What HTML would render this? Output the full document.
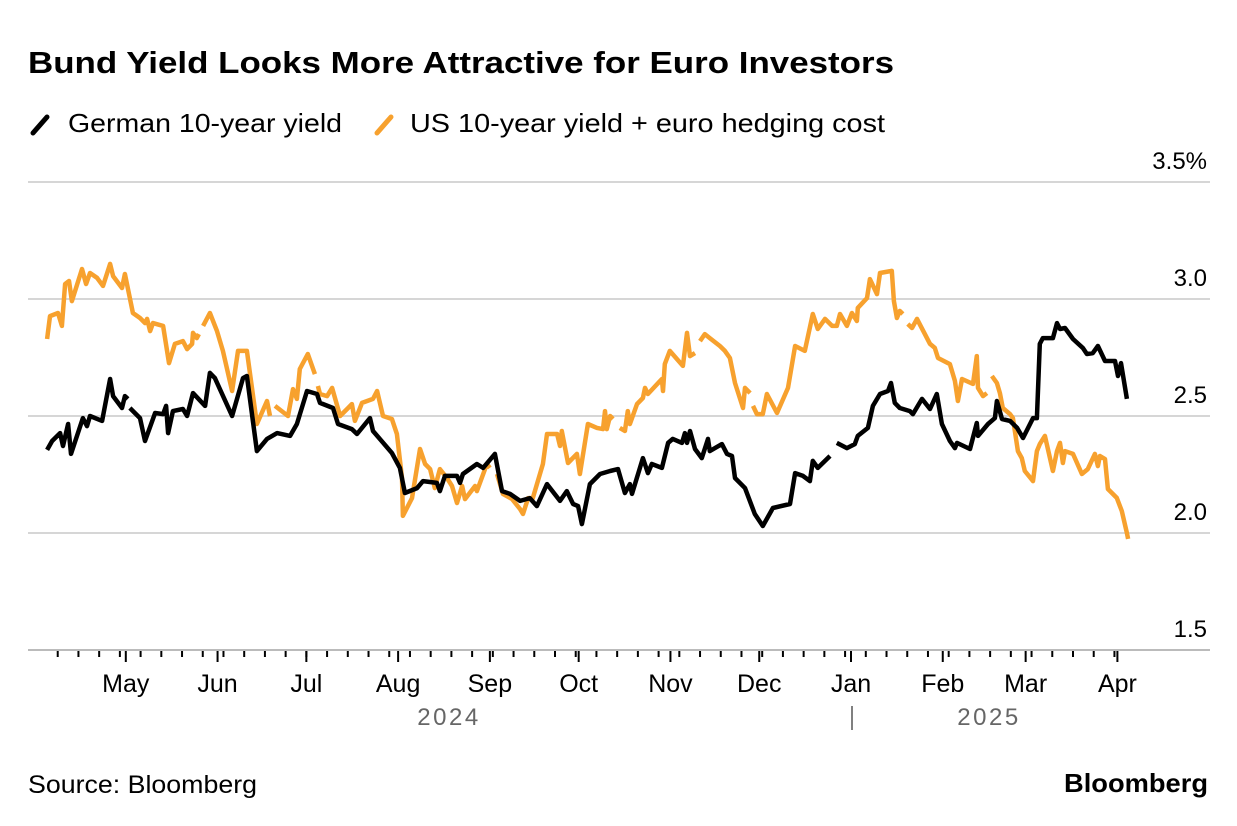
<!DOCTYPE html>
<html><head><meta charset="utf-8">
<style>
body{margin:0;background:#fff;width:1237px;height:826px;overflow:hidden;font-family:"Liberation Sans",sans-serif;}
svg{position:absolute;left:0;top:0}
</style></head><body>
<svg width="1237" height="826">
<text x="28" y="73" font-size="31" font-weight="bold" fill="#000" textLength="866" lengthAdjust="spacingAndGlyphs">Bund Yield Looks More Attractive for Euro Investors</text>
<g>
<line x1="33" y1="133" x2="47" y2="117" stroke="#000" stroke-width="5" stroke-linecap="round"/>
<text x="68" y="132" font-size="26" fill="#000" textLength="274" lengthAdjust="spacingAndGlyphs">German 10-year yield</text>
<line x1="377" y1="133" x2="391" y2="117" stroke="#f7a12e" stroke-width="5" stroke-linecap="round"/>
<text x="410" y="132" font-size="26" fill="#000" textLength="475" lengthAdjust="spacingAndGlyphs">US 10-year yield + euro hedging cost</text>
</g>
<g id="grid"></g><g id="xaxis"></g><g id="series"></g>
<text x="28" y="793" font-size="25" fill="#000" textLength="229" lengthAdjust="spacingAndGlyphs">Source: Bloomberg</text>
<text x="1208" y="792" font-size="26" font-weight="bold" fill="#000" text-anchor="end" textLength="144" lengthAdjust="spacingAndGlyphs">Bloomberg</text>
</svg>
<script>
const yTicks=[1.5,2.0,2.5,3.0,3.5];
const yTickLabels=["1.5","2.0","2.5","3.0","3.5%"];
const monthDays=[30,61,91,122,153,183,214,244,275,306,334,365];
const monthLabels=["May","Jun","Jul","Aug","Sep","Oct","Nov","Dec","Jan","Feb","Mar","Apr"];
const germanDays=[3.4,5.1,7.8,8.8,10.5,11.5,15.5,16.9,17.9,22.0,24.7,25.7,28.7,29.7,30.7,null,31.4,34.8,36.5,39.9,42.6,43.6,44.3,45.9,49.3,50.7,52.7,56.8,58.4,60.1,65.9,69.6,70.9,74.3,77.7,81.1,85.5,87.8,91.2,94.6,95.6,100.0,101.7,106.4,108.1,112.5,113.5,119.9,122.6,124.3,128.4,130.4,135.1,136.1,137.8,141.9,142.9,143.9,148.6,150.7,154.7,157.1,159.8,163.2,166.5,168.9,172.3,176.7,179.0,181.1,182.8,184.1,186.8,190.2,193.6,196.3,198.6,200.3,201.0,204.7,206.4,207.7,211.1,213.2,214.8,217.9,218.9,219.6,220.6,222.3,224.6,226.7,227.3,231.4,233.1,234.8,235.8,239.2,242.5,245.2,248.6,254.4,256.1,258.8,261.1,262.1,263.8,267.9,null,270.2,273.6,276.3,277.3,280.7,282.4,284.8,287.5,288.5,289.8,291.5,294.9,295.9,299.0,301.7,304.0,305.7,308.4,310.1,310.8,315.2,317.5,317.9,321.3,323.6,324.3,326.0,328.7,331.1,333.1,336.5,337.8,338.8,339.8,343.2,344.6,345.6,347.3,350.0,353.3,354.7,356.7,358.4,360.8,364.2,365.2,366.2,368.2];
const germanValues=[2.355,2.393,2.427,2.372,2.466,2.338,2.491,2.457,2.500,2.479,2.658,2.585,2.534,2.585,2.573,null,2.534,2.491,2.393,2.513,2.508,2.543,2.427,2.521,2.530,2.500,2.598,2.543,2.684,2.662,2.500,2.662,2.671,2.350,2.402,2.427,2.415,2.466,2.607,2.594,2.556,2.534,2.466,2.444,2.423,2.491,2.436,2.342,2.278,2.171,2.192,2.222,2.214,2.179,2.244,2.244,2.214,2.252,2.295,2.278,2.338,2.179,2.167,2.137,2.149,2.115,2.209,2.137,2.179,2.124,2.115,2.038,2.209,2.252,2.265,2.273,2.171,2.209,2.167,2.320,2.256,2.295,2.278,2.385,2.402,2.385,2.427,2.385,2.436,2.359,2.320,2.402,2.350,2.380,2.338,2.329,2.235,2.192,2.081,2.030,2.107,2.124,2.256,2.244,2.222,2.308,2.278,2.329,null,2.385,2.363,2.380,2.415,2.449,2.543,2.594,2.607,2.641,2.556,2.534,2.521,2.508,2.573,2.530,2.594,2.466,2.393,2.363,2.385,2.359,2.470,2.415,2.466,2.491,2.564,2.487,2.479,2.449,2.406,2.491,2.491,2.808,2.833,2.833,2.897,2.872,2.876,2.829,2.791,2.765,2.769,2.799,2.735,2.735,2.671,2.726,2.573];
const usDays=[3.4,4.4,7.1,8.4,9.5,10.8,11.8,15.2,16.6,17.9,20.3,22.3,24.7,25.7,28.7,29.7,32.4,34.8,36.5,37.2,38.2,39.2,42.6,44.6,46.6,49.3,50.7,52.4,52.7,54.0,54.7,null,56.1,58.4,60.8,62.8,65.9,67.9,70.9,74.3,77.7,78.7,null,80.4,84.8,86.5,87.8,88.8,91.5,93.9,null,94.9,95.6,98.0,99.7,102.4,105.1,106.4,107.4,109.8,113.5,114.9,116.9,119.9,121.6,123.3,123.6,126.7,129.4,131.1,132.8,134.4,136.1,138.5,140.2,141.9,143.6,144.6,148.0,148.6,152.0,153.0,null,155.4,157.4,160.5,163.2,164.2,165.9,167.5,170.9,172.3,175.7,176.7,177.3,179.4,182.4,183.4,186.1,189.2,191.2,191.9,192.5,193.6,194.6,null,196.9,198.6,199.6,200.3,202.7,204.7,205.4,206.4,211.1,211.5,212.1,213.8,218.2,219.6,220.6,222.3,null,224.0,225.6,227.3,230.7,232.4,234.1,235.8,238.5,239.2,240.9,null,241.9,243.2,245.2,246.6,250.0,253.7,256.1,259.4,262.1,263.8,266.2,268.6,270.2,271.3,273.6,275.3,277.0,277.3,280.4,281.4,283.8,284.8,288.8,289.5,290.5,291.5,292.5,null,294.2,295.6,297.3,301.7,303.3,304.4,308.4,310.1,311.1,312.5,316.2,317.5,317.9,319.6,320.9,null,322.6,324.3,325.3,326.3,328.7,329.7,331.4,332.7,333.7,336.5,337.8,338.8,340.5,343.2,344.6,345.6,346.6,347.3,350.0,353.0,355.0,357.4,358.4,359.1,360.8,361.8,364.8,366.5,368.2,368.6];
const usValues=[2.829,2.927,2.940,2.885,3.064,3.077,2.991,3.128,3.064,3.111,3.090,3.056,3.150,3.098,3.047,3.107,2.940,2.919,2.897,2.915,2.863,2.897,2.885,2.726,2.808,2.820,2.786,2.808,2.855,2.833,2.850,null,2.885,2.940,2.863,2.778,2.607,2.778,2.778,2.466,2.564,2.500,null,2.543,2.500,2.615,2.573,2.701,2.765,2.679,null,2.628,2.594,2.585,2.620,2.500,2.534,2.551,2.479,2.556,2.573,2.607,2.500,2.487,2.423,2.235,2.073,2.149,2.359,2.295,2.273,2.192,2.273,2.235,2.201,2.128,2.201,2.145,2.201,2.179,2.295,2.278,null,2.252,2.167,2.145,2.102,2.081,2.149,2.149,2.295,2.423,2.423,2.372,2.436,2.299,2.338,2.252,2.466,2.449,2.444,2.521,2.444,2.500,2.487,null,2.449,2.436,2.521,2.466,2.551,2.577,2.620,2.594,2.658,2.607,2.722,2.778,2.714,2.855,2.756,2.769,null,2.820,2.850,2.833,2.799,2.778,2.748,2.641,2.534,2.620,2.598,null,2.543,2.508,2.508,2.594,2.513,2.620,2.799,2.778,2.936,2.872,2.915,2.885,2.885,2.936,2.885,2.940,2.906,2.962,3.004,3.085,3.021,3.111,3.120,2.991,2.919,2.949,2.936,null,2.893,2.876,2.915,2.808,2.791,2.748,2.722,2.650,2.564,2.658,2.637,2.756,2.620,2.585,2.598,null,2.671,2.641,2.598,2.534,2.508,2.491,2.350,2.320,2.265,2.222,2.350,2.380,2.415,2.265,2.350,2.385,2.299,2.350,2.338,2.252,2.273,2.338,2.286,2.329,2.316,2.188,2.150,2.094,2.000,1.975];

const NS="http://www.w3.org/2000/svg";
function xs(d){return 37+d*2.96;}
function ys(v){return 650-(v-1.5)*234;}
function mk(tag,attrs,parent){const e=document.createElementNS(NS,tag);for(const k in attrs)e.setAttribute(k,attrs[k]);parent.appendChild(e);return e;}
const grid=document.getElementById('grid');
yTicks.forEach((t,i)=>{
  const l=mk('line',{x1:28,x2:1210,y1:ys(t),y2:ys(t),stroke:i===0?'#bbb':'#d6d6d6','stroke-width':2},grid);
  
  
  const tx=mk('text',{x:1207,y:ys(t)-13,'font-size':24,'text-anchor':'end',fill:'#000'},grid);
  tx.textContent=yTickLabels[i];
  
  
});
const xa=document.getElementById('xaxis');
for(let d=7;d<=369;d+=7){
  const t=mk('line',{x1:xs(d),x2:xs(d),y1:651,y2:657,stroke:'#000','stroke-width':2},xa);
  
  
}
monthDays.forEach((d,i)=>{
  const t=mk('line',{x1:xs(d),x2:xs(d),y1:651,y2:662,stroke:'#000','stroke-width':2},xa);
  
  
  const tx=mk('text',{x:xs(d),y:692,'font-size':25,'text-anchor':'middle',fill:'#000'},xa);
  tx.textContent=monthLabels[i];
  
  
});
[["2024",449],["2025",989]].forEach(a=>{
  const tx=mk('text',{x:a[1],y:725,'font-size':24,'text-anchor':'middle',fill:'#666','letter-spacing':'2.5'},xa);
  tx.textContent=a[0];
  
  
});
const sep=mk('line',{x1:852,x2:852,y1:706,y2:730,stroke:'#555','stroke-width':1.5},xa);



const ser=document.getElementById('series');
function draw(days,vals,color,name){
  let d='',start=true;
  for(let i=0;i<days.length;i++){
    if(days[i]===null||vals[i]===null){start=true;continue;}
    d+=(start?'M':'L')+xs(days[i]).toFixed(1)+','+ys(vals[i]).toFixed(1);
    start=false;
  }
  const p=mk('path',{d:d,fill:'none',stroke:color,'stroke-width':4.5,'stroke-linejoin':'round','stroke-linecap':'butt'},ser);
  
  
}
draw(usDays,usValues,'#f7a12e','us-yield-hedged-line');
draw(germanDays,germanValues,'#000','german-yield-line');
</script>
</body></html>
